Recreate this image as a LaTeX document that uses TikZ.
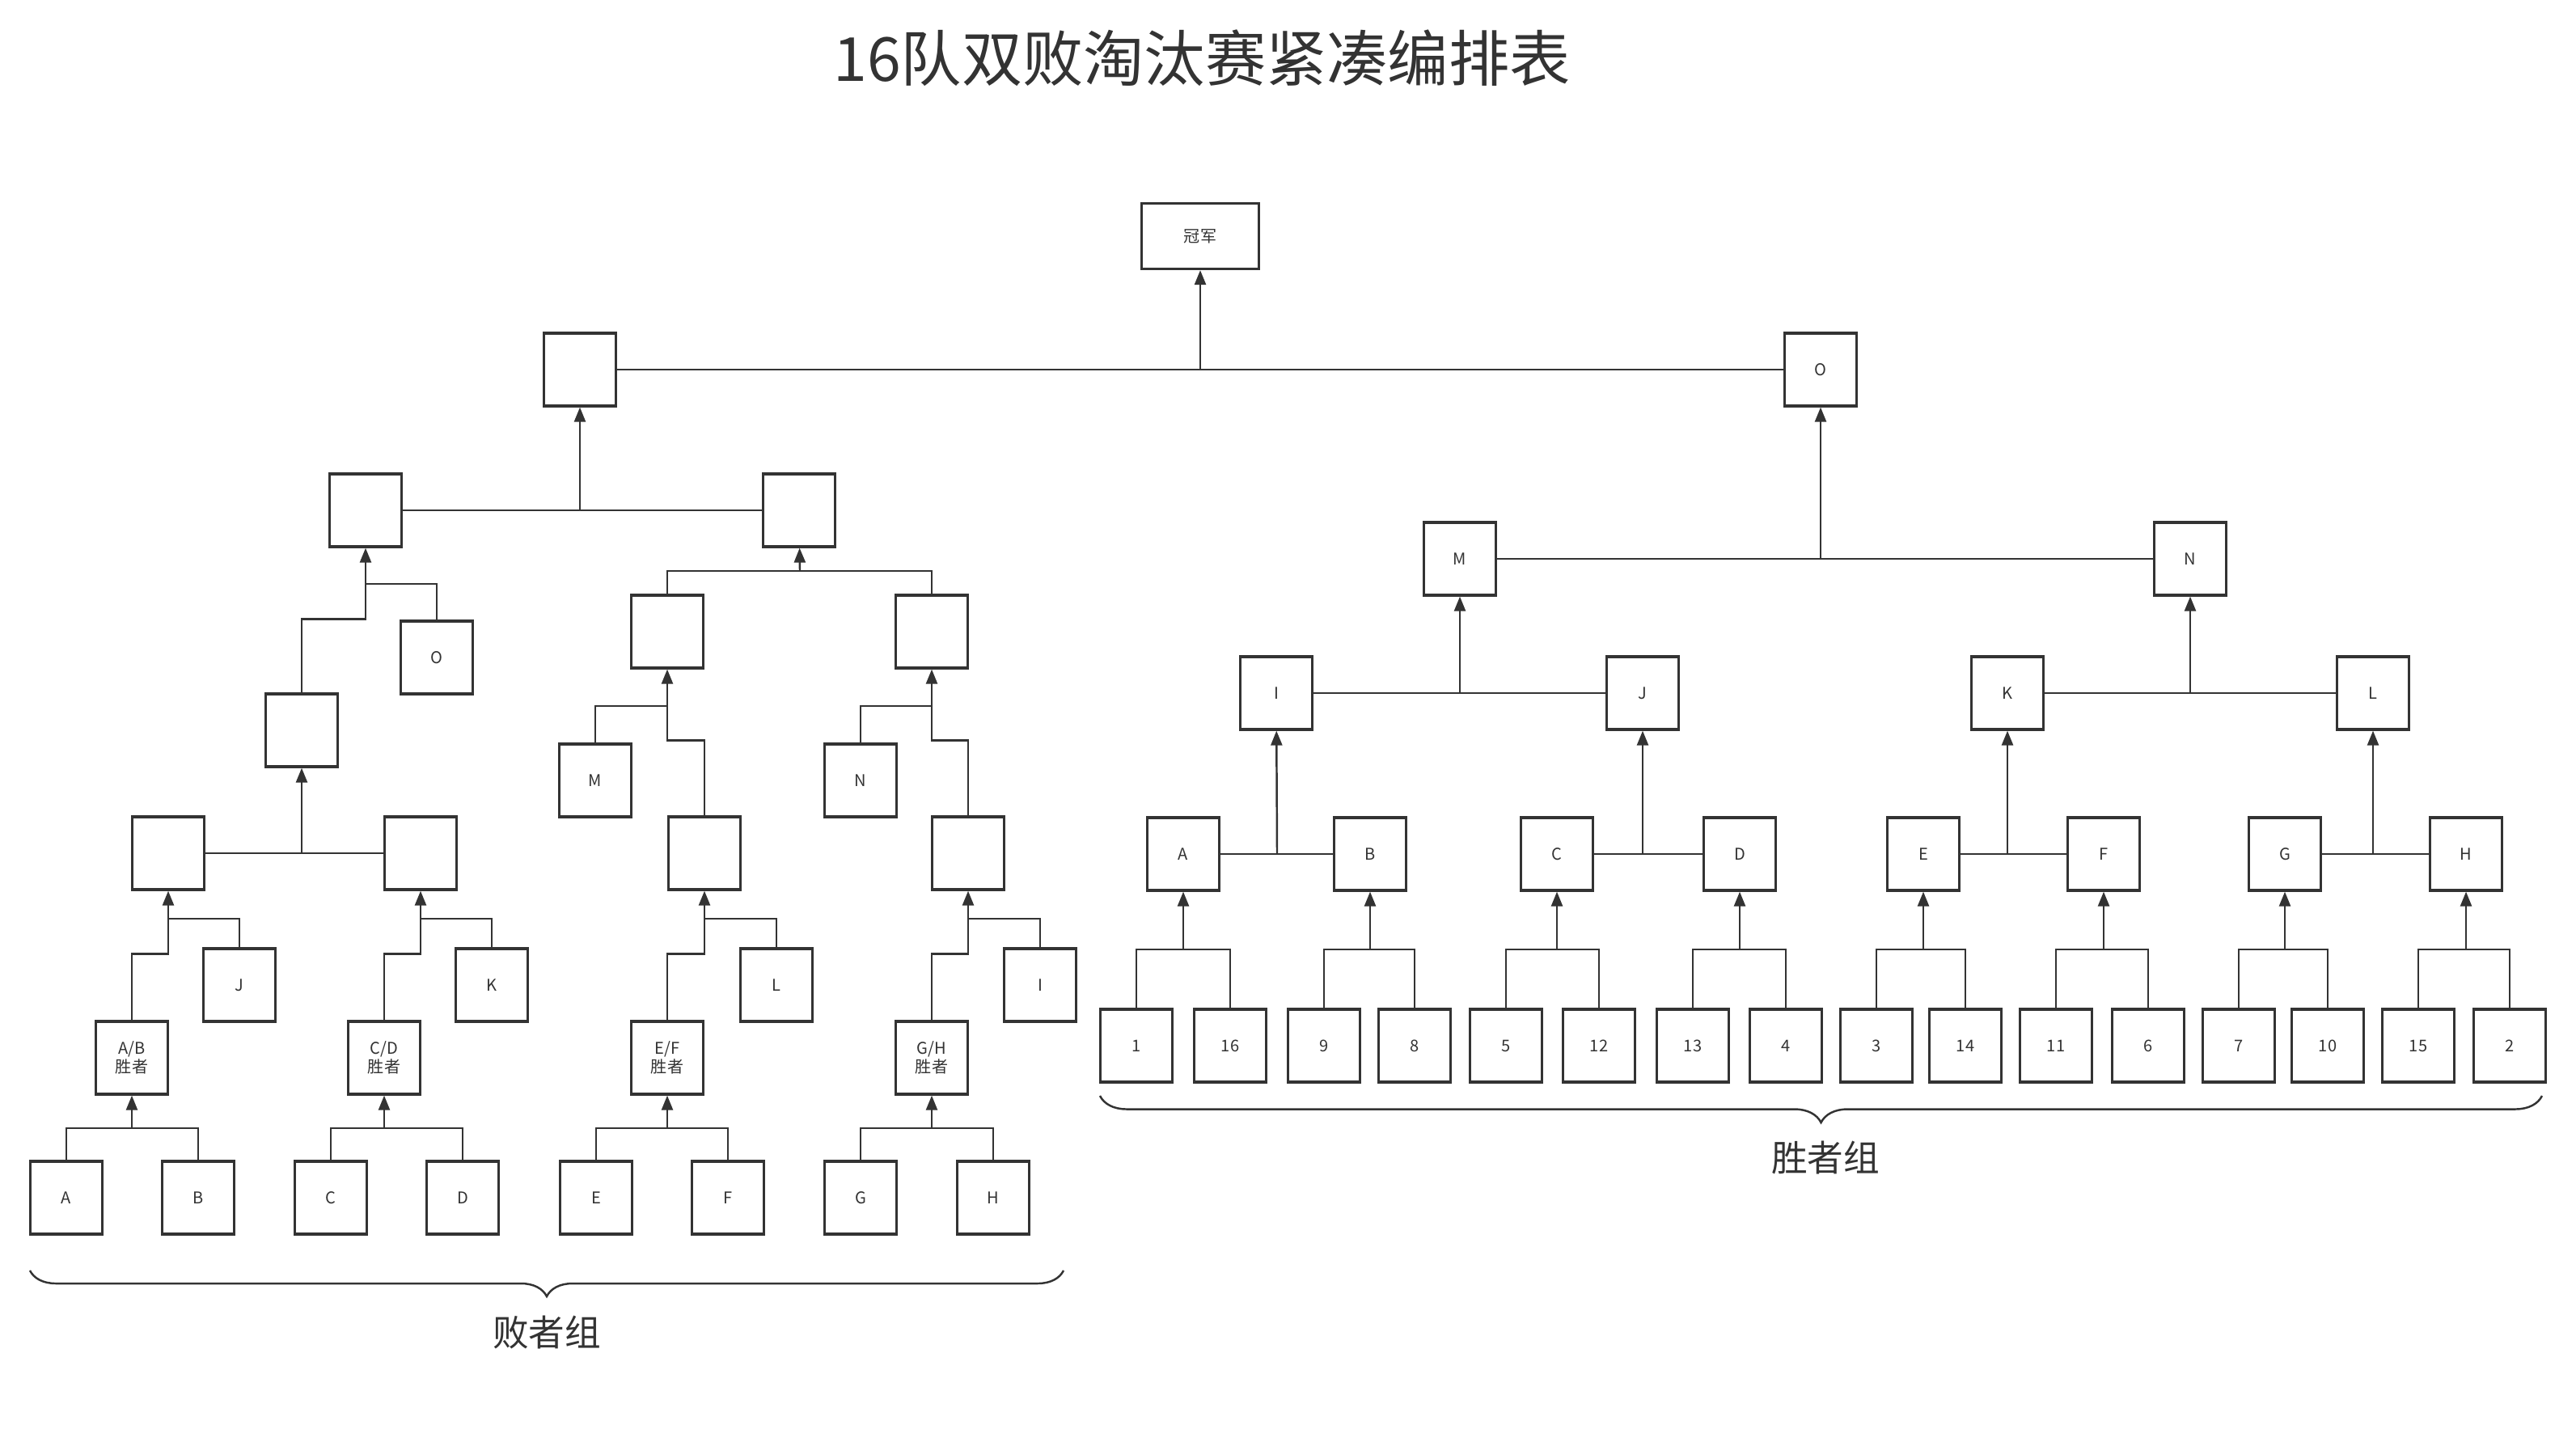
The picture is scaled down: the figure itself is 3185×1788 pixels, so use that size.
\documentclass[tikz,border=0pt]{standalone}
\usepackage{fontspec}
\setmainfont{Noto Sans CJK SC}
\usepackage{tikz}
\usetikzlibrary{arrows.meta,decorations.pathreplacing}
\definecolor{ink}{HTML}{333333}

\begin{document}
\begin{tikzpicture}[x=0.01cm, y=-0.01cm, line width=0.7pt, color=ink,
    box/.style={draw, line width=0.9pt, minimum width=0.89cm, minimum height=0.9cm,
        inner sep=0pt, align=center, font=\fontsize{5.7}{6.6}\selectfont},
    arr/.style={-{Triangle[length=1.8mm,width=1.4mm]}},
    grp/.style={font=\fontsize{12.7}{14}\selectfont}]
    \useasboundingbox (0,0) rectangle (3185,1788);

    \node[font=\fontsize{21.4}{24}\selectfont] (title) at (1486,72) {16队双败淘汰赛紧凑编排表};
    \node[box, minimum width=1.45cm, minimum height=0.81cm] (cham) at (1484,292) {冠军};

    % winners
    \node[box] (w1) at (1405,1293) {1};
    \node[box] (w16) at (1521,1293) {16};
    \node[box] (w9) at (1637,1293) {9};
    \node[box] (w8) at (1749,1293) {8};
    \node[box] (w5) at (1862,1293) {5};
    \node[box] (w12) at (1977,1293) {12};
    \node[box] (w13) at (2093,1293) {13};
    \node[box] (w4) at (2208,1293) {4};
    \node[box] (w3) at (2320,1293) {3};
    \node[box] (w14) at (2430,1293) {14};
    \node[box] (w11) at (2542,1293) {11};
    \node[box] (w6) at (2656,1293) {6};
    \node[box] (w7) at (2768,1293) {7};
    \node[box] (w10) at (2878,1293) {10};
    \node[box] (w15) at (2990,1293) {15};
    \node[box] (w2) at (3103,1293) {2};

    \node[box] (wA) at (1463,1056) {A};
    \node[box] (wB) at (1694,1056) {B};
    \node[box] (wC) at (1925,1056) {C};
    \node[box] (wD) at (2151,1056) {D};
    \node[box] (wE) at (2378,1056) {E};
    \node[box] (wF) at (2601,1056) {F};
    \node[box] (wG) at (2825,1056) {G};
    \node[box] (wH) at (3049,1056) {H};

    \node[box] (wI) at (1578,857) {I};
    \node[box] (wJ) at (2031,857) {J};
    \node[box] (wK) at (2482,857) {K};
    \node[box] (wL) at (2934,857) {L};
    \node[box] (wM) at (1805,691) {M};
    \node[box] (wN) at (2708,691) {N};
    \node[box] (wO) at (2251,457) {O};

    % losers
    \node[box] (lA) at (82,1481) {A};
    \node[box] (lB) at (245,1481) {B};
    \node[box] (lC) at (409,1481) {C};
    \node[box] (lD) at (572,1481) {D};
    \node[box] (lE) at (737,1481) {E};
    \node[box] (lF) at (900,1481) {F};
    \node[box] (lG) at (1064,1481) {G};
    \node[box] (lH) at (1228,1481) {H};

    \node[box] (lAB) at (163,1308) {A/B\\胜者};
    \node[box] (lCD) at (475,1308) {C/D\\胜者};
    \node[box] (lEF) at (825,1308) {E/F\\胜者};
    \node[box] (lGH) at (1152,1308) {G/H\\胜者};
    \node[box] (lJ) at (296,1218) {J};
    \node[box] (lK) at (608,1218) {K};
    \node[box] (lL) at (960,1218) {L};
    \node[box] (lI) at (1286,1218) {I};

    \node[box] (lP1) at (208,1055) {};
    \node[box] (lP2) at (520,1055) {};
    \node[box] (lP3) at (871,1055) {};
    \node[box] (lP4) at (1197,1055) {};
    \node[box] (lM) at (736,965) {M};
    \node[box] (lN) at (1064,965) {N};
    \node[box] (lQ) at (373,903) {};
    \node[box] (lO) at (540,813) {O};
    \node[box] (lR1) at (825,781) {};
    \node[box] (lR2) at (1152,781) {};
    \node[box] (lS1) at (452,631) {};
    \node[box] (lS2) at (988,631) {};
    \node[box] (lT) at (717,457) {};

    % junctions
    \coordinate (jA) at (1463,1174);
    \coordinate (jB) at (1694,1174);
    \coordinate (jC) at (1925,1174);
    \coordinate (jD) at (2151,1174);
    \coordinate (jE) at (2378,1174);
    \coordinate (jF) at (2601,1174);
    \coordinate (jG) at (2825,1174);
    \coordinate (jH) at (3049,1174);
    \coordinate (jAB) at (1579,1056);
    \coordinate (jCD) at (2031,1056);
    \coordinate (jEF) at (2482,1056);
    \coordinate (jGH) at (2934,1056);
    \coordinate (jIJ) at (1805,857);
    \coordinate (jKL) at (2708,857);
    \coordinate (jMN) at (2251,691);
    \coordinate (jTop) at (1484,457);

    \coordinate (kAB) at (163,1395);
    \coordinate (kCD) at (475,1395);
    \coordinate (kEF) at (825,1395);
    \coordinate (kGH) at (1152,1395);
    \coordinate (mP1) at (208,1136);
    \coordinate (mP2) at (520,1136);
    \coordinate (mP3) at (871,1136);
    \coordinate (mP4) at (1197,1136);
    \coordinate (mQ) at (373,1055);
    \coordinate (mR1) at (825,873);
    \coordinate (mR2) at (1152,873);
    \coordinate (mS1) at (452,722);
    \coordinate (mS2) at (989,706);
    \coordinate (mT) at (717,631);

    \draw (w1.north) |- (jA) -| (w16.north);
    \draw (w9.north) |- (jB) -| (w8.north);
    \draw (w5.north) |- (jC) -| (w12.north);
    \draw (w13.north) |- (jD) -| (w4.north);
    \draw (w3.north) |- (jE) -| (w14.north);
    \draw (w11.north) |- (jF) -| (w6.north);
    \draw (w7.north) |- (jG) -| (w10.north);
    \draw (w15.north) |- (jH) -| (w2.north);
    \draw[arr] (jA) -- (wA);
    \draw[arr] (jB) -- (wB);
    \draw[arr] (jC) -- (wC);
    \draw[arr] (jD) -- (wD);
    \draw[arr] (jE) -- (wE);
    \draw[arr] (jF) -- (wF);
    \draw[arr] (jG) -- (wG);
    \draw[arr] (jH) -- (wH);

    \draw (wA) -- (wB);
    \draw (wC) -- (wD);
    \draw (wE) -- (wF);
    \draw (wG) -- (wH);
    \draw[arr] (jAB) -- (wI);
    \draw[arr] (jCD) -- (wJ);
    \draw[arr] (jEF) -- (wK);
    \draw[arr] (jGH) -- (wL);
    \draw (wI) -- (wJ);
    \draw (wK) -- (wL);
    \draw[arr] (jIJ) -- (wM);
    \draw[arr] (jKL) -- (wN);
    \draw (wM) -- (wN);
    \draw[arr] (jMN) -- (wO);
    \draw (lT) -- (wO);
    \draw[arr] (jTop) -- (cham);

    \draw (lA.north) |- (kAB) -| (lB.north);
    \draw (lC.north) |- (kCD) -| (lD.north);
    \draw (lE.north) |- (kEF) -| (lF.north);
    \draw (lG.north) |- (kGH) -| (lH.north);
    \draw[arr] (kAB) -- (lAB);
    \draw[arr] (kCD) -- (lCD);
    \draw[arr] (kEF) -- (lEF);
    \draw[arr] (kGH) -- (lGH);

    \draw (lAB.north) -- ++(0,-82) -| (mP1) -| (lJ.north);
    \draw (lCD.north) -- ++(0,-82) -| (mP2) -| (lK.north);
    \draw (lEF.north) -- ++(0,-82) -| (mP3) -| (lL.north);
    \draw (lGH.north) -- ++(0,-82) -| (mP4) -| (lI.north);
    \draw[arr] (mP1) -- (lP1);
    \draw[arr] (mP2) -- (lP2);
    \draw[arr] (mP3) -- (lP3);
    \draw[arr] (mP4) -- (lP4);

    \draw (lP1) -- (lP2);
    \draw[arr] (mQ) -- (lQ);
    \draw (lP3.north) -- ++(0,-93) -| (mR1) -| (lM.north);
    \draw (lP4.north) -- ++(0,-93) -| (mR2) -| (lN.north);
    \draw[arr] (mR1) -- (lR1);
    \draw[arr] (mR2) -- (lR2);

    \draw (lQ.north) -- ++(0,-91) -| (mS1) -| (lO.north);
    \draw[arr] (mS1) -- (lS1);
    \draw (lR1.north) |- (mS2) -| (lR2.north);
    \draw[arr] (mS2) -- (lS2);
    \draw (lS1) -- (lS2);
    \draw[arr] (mT) -- (lT);

    % braces
    \coordinate (b1) at (37,1571);
    \coordinate (b2) at (1315,1571);
    \coordinate (b3) at (1360,1355);
    \coordinate (b4) at (3143,1355);
    \draw[decorate, decoration={brace, mirror, amplitude=0.32cm}] (b1) -- (b2);
    \draw[decorate, decoration={brace, mirror, amplitude=0.33cm}] (b3) -- (b4);
    \node[grp] (lose) at (676,1648) {败者组};
    \node[grp] (win) at (2257,1432) {胜者组};
\end{tikzpicture}
\end{document}
